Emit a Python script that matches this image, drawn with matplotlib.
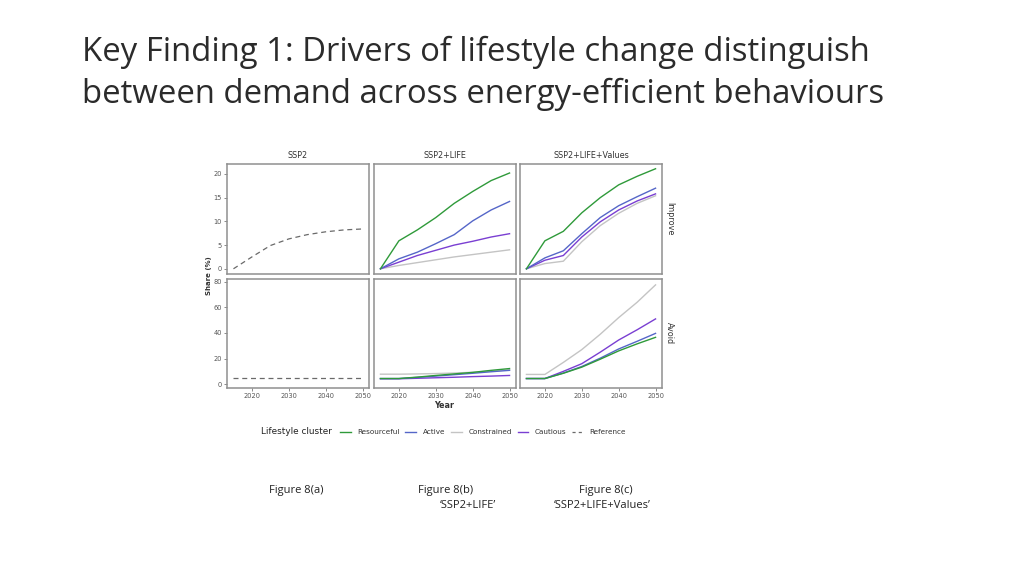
import matplotlib.pyplot as plt
from matplotlib.lines import Line2D

# data
years = [2015, 2020, 2025, 2030, 2035, 2040, 2045, 2050]
scenarios = ["SSP2", "SSP2+LIFE", "SSP2+LIFE+Values"]
rows = ["Improve", "Avoid"]
clusters = ["Resourceful", "Active", "Constrained", "Cautious"]

ref_improve = [0, 2.5, 4.9, 6.3, 7.2, 7.8, 8.2, 8.4]
ref_avoid = [4.5, 4.5, 4.5, 4.5, 4.5, 4.5, 4.5, 4.5]

life_improve = {
    "Resourceful": [0, 5.9, 8.2, 10.8, 13.8, 16.3, 18.6, 20.2],
    "Active": [0, 2.1, 3.5, 5.3, 7.2, 10.1, 12.4, 14.2],
    "Constrained": [0, 0.7, 1.3, 1.9, 2.5, 3.0, 3.5, 4.0],
    "Cautious": [0, 1.4, 2.8, 3.9, 5.0, 5.8, 6.7, 7.4],
}
life_avoid = {
    "Resourceful": [4.4, 4.4, 5.5, 6.8, 8.0, 9.2, 10.8, 12.2],
    "Active": [4.4, 4.4, 5.3, 6.3, 7.4, 8.5, 9.7, 10.8],
    "Constrained": [7.8, 7.8, 8.0, 8.3, 8.7, 9.3, 10.2, 11.2],
    "Cautious": [4.2, 4.2, 4.6, 5.0, 5.4, 5.9, 6.3, 6.8],
}
values_improve = {
    "Resourceful": [0, 5.9, 7.9, 11.8, 15.0, 17.7, 19.5, 21.1],
    "Active": [0, 2.3, 3.8, 7.4, 10.8, 13.3, 15.2, 17.0],
    "Constrained": [0, 1.1, 1.6, 5.7, 9.1, 11.7, 13.8, 15.4],
    "Cautious": [0, 1.8, 2.8, 6.7, 9.9, 12.4, 14.3, 15.8],
}
values_avoid = {
    "Resourceful": [4.4, 4.4, 8.5, 13.3, 19.5, 26.0, 31.5, 36.6],
    "Active": [4.4, 4.4, 8.7, 13.8, 20.3, 27.5, 33.5, 39.7],
    "Constrained": [7.6, 7.6, 17.0, 27.0, 39.0, 52.0, 64.0, 77.6],
    "Cautious": [4.4, 4.4, 10.0, 16.0, 25.0, 34.5, 42.5, 51.0],
}

colors = {
    "Resourceful": "#2f9a3a",
    "Active": "#5566c8",
    "Constrained": "#c4c4c4",
    "Cautious": "#7a3fd2",
}
ref_color = "#6a6a6a"

W, H = 1024, 576
fig = plt.figure(figsize=(W / 100, H / 100), dpi=100)
fig.patch.set_facecolor("white")


def px_axes(x0, y0, x1, y1):
    return fig.add_axes([x0 / W, 1 - y1 / H, (x1 - x0) / W, (y1 - y0) / H])


title_kw = dict(fontsize=23.7, family="Open Sans", color="#2b2b2b",
                va="center")
fig.text(82 / W, 1 - 52 / H,
         "Key Finding 1: Drivers of lifestyle change distinguish", **title_kw)
fig.text(82 / W, 1 - 94 / H,
         "between demand across energy-efficient behaviours", **title_kw)

col_x = [(227, 369), (374, 516), (520, 662)]
row_y = [(164, 274), (279, 388)]
panel_data = {
    (1, 0): life_improve, (1, 1): life_avoid,
    (2, 0): values_improve, (2, 1): values_avoid,
}
tick_col = "#555555"

for r in range(2):
    for c in range(3):
        ax = px_axes(col_x[c][0], row_y[r][0], col_x[c][1], row_y[r][1])
        ax.set_xlim(2013.25, 2051.75)
        if r == 0:
            ax.set_ylim(-1.1, 22.1)
            ax.set_yticks([0, 5, 10, 15, 20])
        else:
            ax.set_ylim(-3.0, 82.2)
            ax.set_yticks([0, 20, 40, 60, 80])
        ax.set_xticks([2020, 2030, 2040, 2050])
        for s in ax.spines.values():
            s.set_color("#909090")
            s.set_linewidth(1.1)
        ax.tick_params(length=2, width=0.6, color="#777777",
                       labelsize=4.8, labelcolor=tick_col, pad=1.5)
        if c != 0:
            ax.tick_params(axis="y", left=False, labelleft=False)
        if r == 0:
            ax.tick_params(axis="x", bottom=False, labelbottom=False)
        if c == 0:
            yv = ref_improve if r == 0 else ref_avoid
            ax.plot(years, yv, color=ref_color, lw=0.9, ls=(0, (4, 3)))
        else:
            d = panel_data[(c, r)]
            for k in ["Constrained", "Cautious", "Active", "Resourceful"]:
                ax.plot(years, d[k], color=colors[k], lw=1.0)
        if r == 0:
            ax.set_title(scenarios[c], fontsize=5.8, color="#333333", pad=4)
        if c == 2:
            ax.text(1.055, 0.5, rows[r], transform=ax.transAxes, rotation=-90,
                    fontsize=5.8, color="#333333", ha="center", va="center")

fig.text(209 / W, 1 - 276 / H, "Share (%)", rotation=90, fontsize=5.0,
         fontweight="bold", color="#333333", ha="center", va="center")
fig.text(444 / W, 1 - 405 / H, "Year", fontsize=5.8, fontweight="bold",
         color="#333333", ha="center", va="center")

fig.text(261 / W, 1 - 432 / H, "Lifestyle cluster", fontsize=6.4,
         color="#222222", ha="left", va="center")
handles = [Line2D([], [], color=colors[k], lw=1.0) for k in clusters]
handles.append(Line2D([], [], color=ref_color, lw=0.9, ls=(0, (2.5, 2.5))))
fig.legend(handles, clusters + ["Reference"], loc="center",
           bbox_to_anchor=(483 / W, 1 - 432 / H), ncol=5, frameon=False,
           fontsize=5.2, handlelength=1.5, handletextpad=0.9,
           columnspacing=0.8, labelcolor="#333333")

cap = dict(fontsize=8, family="Open Sans", color="#222222", ha="center",
           va="center")
fig.text(296 / W, 1 - 490 / H, "Figure 8(a)", **cap)
fig.text(446 / W, 1 - 490 / H, "Figure 8(b)", **cap)
fig.text(468 / W, 1 - 505 / H, "\u2018SSP2+LIFE\u2019", **cap)
fig.text(606 / W, 1 - 490 / H, "Figure 8(c)", **cap)
fig.text(602 / W, 1 - 505 / H, "\u2018SSP2+LIFE+Values\u2019", **cap)

fig.savefig("out.png", dpi=100)
